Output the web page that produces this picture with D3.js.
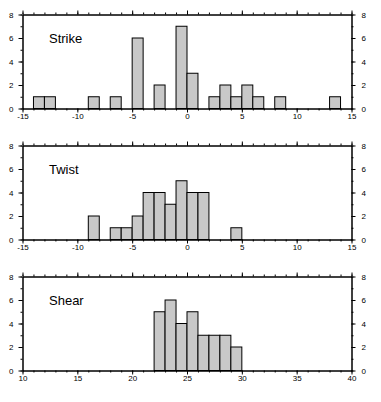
<!DOCTYPE html>
<html>
<head>
<meta charset="utf-8">
<script src="https://cdn.jsdelivr.net/npm/d3@7"></script>
<style>
  html, body { margin: 0; padding: 0; background: #fff; }
  svg { display: block; }
  text { font-family: "Liberation Sans", Arial, Helvetica, sans-serif; fill: #000; }
</style>
</head>
<body>
<script>
// ---- data ----
const panelNames = ["Strike", "Twist", "Shear"];
const xDomains = [[-15, 15], [-15, 15], [10, 40]];
const xTickLabels = [[-15, -10, -5, 0, 5, 10, 15], [-15, -10, -5, 0, 5, 10, 15], [10, 15, 20, 25, 30, 35, 40]];
const yTickLabels = [0, 2, 4, 6, 8];
// bins: [start, count], bin width 1
const strikeBins = [[-14,1],[-13,1],[-9,1],[-7,1],[-5,6],[-3,2],[-1,7],[0,3],[2,1],[3,2],[4,1],[5,2],[6,1],[8,1],[13,1]];
const twistBins  = [[-9,2],[-7,1],[-6,1],[-5,2],[-4,4],[-3,4],[-2,3],[-1,5],[0,4],[1,4],[4,1]];
const shearBins  = [[22,5],[23,6],[24,4],[25,5],[26,3],[27,3],[28,3],[29,2]];
const allBins = [strikeBins, twistBins, shearBins];
const binWidth = 1;

// ---- layout ----
const W = 381, H = 402;
const left = 22.5, right = 351.5;
const tops = [14.5, 145.5, 276.5];
const ph = 94;
const majorLen = 4, minorLen = 2;
const fmt = d => String(d);

const svg = d3.select("body").append("svg").attr("width", W).attr("height", H);

function styleAxis(g) {
  g.selectAll("path.domain").attr("stroke", "#000").attr("stroke-width", 1);
  g.selectAll(".tick line").attr("stroke", "#000").attr("stroke-width", 1);
  g.selectAll("text").attr("font-size", 8).attr("font-family", '"Liberation Sans", Arial, sans-serif');
}

panelNames.forEach((name, i) => {
  const top = tops[i], bottom = top + ph;
  const x = d3.scaleLinear().domain(xDomains[i]).range([left, right]);
  const y = d3.scaleLinear().domain([0, 8]).range([bottom, top]);
  const g = svg.append("g");

  // bars
  g.selectAll("rect.bar").data(allBins[i]).join("rect")
    .attr("class", "bar")
    .attr("x", d => x(d[0]))
    .attr("y", d => y(d[1]))
    .attr("width", d => x(d[0] + binWidth) - x(d[0]))
    .attr("height", d => y(0) - y(d[1]))
    .attr("fill", "#c8c8c8")
    .attr("stroke", "#000")
    .attr("stroke-width", 1);

  const xMinor = d3.range(xDomains[i][0], xDomains[i][1] + 1, 1);
  const yMinor = d3.range(0, 9, 1);

  // bottom
  g.append("g").attr("transform", `translate(0,${bottom})`)
    .call(d3.axisBottom(x).tickValues(xMinor).tickSize(minorLen).tickFormat("").tickSizeOuter(0)).call(styleAxis);
  g.append("g").attr("transform", `translate(0,${bottom})`)
    .call(d3.axisBottom(x).tickValues(xTickLabels[i]).tickSize(majorLen).tickPadding(1).tickFormat(fmt).tickSizeOuter(0)).call(styleAxis);
  // top
  g.append("g").attr("transform", `translate(0,${top})`)
    .call(d3.axisTop(x).tickValues(xMinor).tickSize(minorLen).tickFormat("").tickSizeOuter(0)).call(styleAxis);
  g.append("g").attr("transform", `translate(0,${top})`)
    .call(d3.axisTop(x).tickValues(xTickLabels[i]).tickSize(majorLen).tickFormat("").tickSizeOuter(0)).call(styleAxis);
  // left
  g.append("g").attr("transform", `translate(${left},0)`)
    .call(d3.axisLeft(y).tickValues(yMinor).tickSize(minorLen).tickFormat("").tickSizeOuter(0)).call(styleAxis);
  g.append("g").attr("transform", `translate(${left},0)`)
    .call(d3.axisLeft(y).tickValues(yTickLabels).tickSize(majorLen).tickPadding(5).tickFormat(fmt).tickSizeOuter(0)).call(styleAxis);
  // right
  g.append("g").attr("transform", `translate(${right},0)`)
    .call(d3.axisRight(y).tickValues(yMinor).tickSize(minorLen).tickFormat("").tickSizeOuter(0)).call(styleAxis);
  g.append("g").attr("transform", `translate(${right},0)`)
    .call(d3.axisRight(y).tickValues(yTickLabels).tickSize(majorLen).tickPadding(6).tickFormat(fmt).tickSizeOuter(0)).call(styleAxis);

  g.append("text").attr("x", 49).attr("y", top + 28.5)
    .attr("font-size", 13).text(name);
});
</script>
</body>
</html>
